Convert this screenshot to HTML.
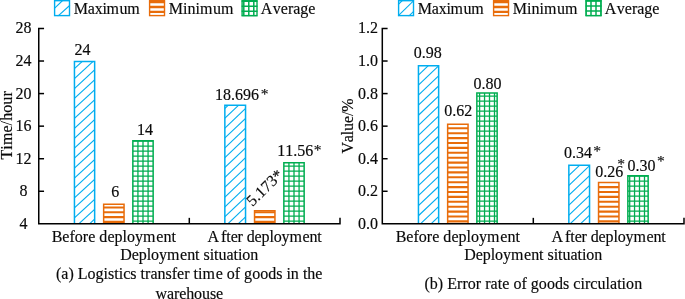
<!DOCTYPE html>
<html><head><meta charset="utf-8"><title>chart</title>
<style>html,body{margin:0;padding:0;background:#fff}svg{display:block;will-change:transform}text{font-family:"Liberation Serif",serif;fill:#0a0a0a;stroke:#0a0a0a;stroke-width:0.16px;font-kerning:none}</style>
</head><body>
<svg width="685" height="299" viewBox="0 0 685 299">
<rect width="685" height="299" fill="#fff"/>
<text x="23.60" y="33.45" font-size="16.0" text-anchor="middle">28</text>
<text x="23.60" y="66.02" font-size="16.0" text-anchor="middle">24</text>
<text x="23.60" y="98.58" font-size="16.0" text-anchor="middle">20</text>
<text x="23.60" y="131.15" font-size="16.0" text-anchor="middle">16</text>
<text x="23.60" y="163.72" font-size="16.0" text-anchor="middle">12</text>
<text x="23.60" y="196.28" font-size="16.0" text-anchor="middle">8</text>
<text x="23.60" y="228.85" font-size="16.0" text-anchor="middle">4</text>
<text transform="translate(12.40,159.49) rotate(-90)" font-size="16.0" textLength="68.23" lengthAdjust="spacing">Time/hour</text>
<clipPath id="c1"><rect x="53.90" y="0.0" width="16.3" height="16.3"/></clipPath>
<g clip-path="url(#c1)" stroke="#00adef" fill="none">
<line x1="53.90" y1="8.90" x2="63.10" y2="0.00" stroke-width="1.1"/>
<line x1="57.60" y1="16.30" x2="70.20" y2="5.00" stroke-width="1.1"/>
</g>
<rect x="54.60" y="0.70" width="14.90" height="14.90" fill="none" stroke="#00adef" stroke-width="1.4"/>
<text x="73.84" y="13.50" font-size="16.0" textLength="65.81" lengthAdjust="spacing">Maxim<tspan dx="0.7">um</tspan></text>
<clipPath id="c2"><rect x="148.90" y="0.0" width="16.3" height="16.3"/></clipPath>
<g clip-path="url(#c2)" stroke="#e86c0a" fill="none">
<line x1="148.90" y1="2.10" x2="165.20" y2="2.10" stroke-width="2.3"/>
<line x1="148.90" y1="7.00" x2="165.20" y2="7.00" stroke-width="2.3"/>
<line x1="148.90" y1="11.90" x2="165.20" y2="11.90" stroke-width="2.3"/>
</g>
<rect x="149.60" y="0.70" width="14.90" height="14.90" fill="none" stroke="#e86c0a" stroke-width="1.4"/>
<text x="168.79" y="13.50" font-size="16.0">Minim<tspan dx="0.7">um</tspan></text>
<clipPath id="c3"><rect x="241.40" y="0.0" width="16.3" height="16.3"/></clipPath>
<g clip-path="url(#c3)" stroke="#00ad50" fill="none">
<line x1="241.40" y1="1.20" x2="257.70" y2="1.20" stroke-width="1.5"/>
<line x1="243.80" y1="0.0" x2="243.80" y2="16.3" stroke-width="1.5"/>
<line x1="241.40" y1="6.20" x2="257.70" y2="6.20" stroke-width="1.5"/>
<line x1="248.80" y1="0.0" x2="248.80" y2="16.3" stroke-width="1.5"/>
<line x1="241.40" y1="11.20" x2="257.70" y2="11.20" stroke-width="1.5"/>
<line x1="253.80" y1="0.0" x2="253.80" y2="16.3" stroke-width="1.5"/>
<line x1="241.40" y1="16.20" x2="257.70" y2="16.20" stroke-width="1.5"/>
<line x1="258.80" y1="0.0" x2="258.80" y2="16.3" stroke-width="1.5"/>
</g>
<rect x="242.10" y="0.70" width="14.90" height="14.90" fill="none" stroke="#00ad50" stroke-width="1.4"/>
<text x="260.74" y="13.50" font-size="16.0">A</text>
<text x="272.81" y="13.50" font-size="16.0">verage</text>
<clipPath id="c4"><rect x="74.45" y="61.55" width="20.20" height="162.30"/></clipPath>
<g clip-path="url(#c4)" stroke="#00adef" fill="none">
<line x1="72.45" y1="30.64" x2="96.65" y2="8.38" stroke-width="1.1"/>
<line x1="72.45" y1="40.59" x2="96.65" y2="18.33" stroke-width="1.1"/>
<line x1="72.45" y1="50.54" x2="96.65" y2="28.28" stroke-width="1.1"/>
<line x1="72.45" y1="60.49" x2="96.65" y2="38.23" stroke-width="1.1"/>
<line x1="72.45" y1="70.44" x2="96.65" y2="48.18" stroke-width="1.1"/>
<line x1="72.45" y1="80.39" x2="96.65" y2="58.13" stroke-width="1.1"/>
<line x1="72.45" y1="90.34" x2="96.65" y2="68.08" stroke-width="1.1"/>
<line x1="72.45" y1="100.29" x2="96.65" y2="78.03" stroke-width="1.1"/>
<line x1="72.45" y1="110.24" x2="96.65" y2="87.98" stroke-width="1.1"/>
<line x1="72.45" y1="120.19" x2="96.65" y2="97.93" stroke-width="1.1"/>
<line x1="72.45" y1="130.14" x2="96.65" y2="107.88" stroke-width="1.1"/>
<line x1="72.45" y1="140.09" x2="96.65" y2="117.83" stroke-width="1.1"/>
<line x1="72.45" y1="150.04" x2="96.65" y2="127.78" stroke-width="1.1"/>
<line x1="72.45" y1="159.99" x2="96.65" y2="137.73" stroke-width="1.1"/>
<line x1="72.45" y1="169.94" x2="96.65" y2="147.68" stroke-width="1.1"/>
<line x1="72.45" y1="179.89" x2="96.65" y2="157.63" stroke-width="1.1"/>
<line x1="72.45" y1="189.84" x2="96.65" y2="167.58" stroke-width="1.1"/>
<line x1="72.45" y1="199.79" x2="96.65" y2="177.53" stroke-width="1.1"/>
<line x1="72.45" y1="209.74" x2="96.65" y2="187.48" stroke-width="1.1"/>
<line x1="72.45" y1="219.69" x2="96.65" y2="197.43" stroke-width="1.1"/>
<line x1="72.45" y1="229.64" x2="96.65" y2="207.38" stroke-width="1.1"/>
<line x1="72.45" y1="239.59" x2="96.65" y2="217.33" stroke-width="1.1"/>
<line x1="72.45" y1="249.54" x2="96.65" y2="227.28" stroke-width="1.1"/>
</g>
<path d="M74.45 223.85 V61.55 H94.65 V223.85" fill="none" stroke="#00adef" stroke-width="1.5"/>
<clipPath id="c5"><rect x="103.65" y="204.15" width="20.40" height="19.70"/></clipPath>
<g clip-path="url(#c5)" stroke="#e86c0a" fill="none">
<line x1="103.65" y1="207.50" x2="124.05" y2="207.50" stroke-width="2.1"/>
<line x1="103.65" y1="212.30" x2="124.05" y2="212.30" stroke-width="2.1"/>
<line x1="103.65" y1="217.10" x2="124.05" y2="217.10" stroke-width="2.1"/>
<line x1="103.65" y1="221.90" x2="124.05" y2="221.90" stroke-width="2.1"/>
<line x1="103.65" y1="226.70" x2="124.05" y2="226.70" stroke-width="2.1"/>
</g>
<path d="M103.65 223.85 V204.15 H124.05 V223.85" fill="none" stroke="#e86c0a" stroke-width="1.5"/>
<clipPath id="c6"><rect x="132.85" y="140.85" width="20.30" height="83.00"/></clipPath>
<g clip-path="url(#c6)" stroke="#00ad50" fill="none">
<line x1="132.85" y1="141.20" x2="153.15" y2="141.20" stroke-width="1.3"/>
<line x1="132.85" y1="146.20" x2="153.15" y2="146.20" stroke-width="1.3"/>
<line x1="132.85" y1="151.20" x2="153.15" y2="151.20" stroke-width="1.3"/>
<line x1="132.85" y1="156.20" x2="153.15" y2="156.20" stroke-width="1.3"/>
<line x1="132.85" y1="161.20" x2="153.15" y2="161.20" stroke-width="1.3"/>
<line x1="132.85" y1="166.20" x2="153.15" y2="166.20" stroke-width="1.3"/>
<line x1="132.85" y1="171.20" x2="153.15" y2="171.20" stroke-width="1.3"/>
<line x1="132.85" y1="176.20" x2="153.15" y2="176.20" stroke-width="1.3"/>
<line x1="132.85" y1="181.20" x2="153.15" y2="181.20" stroke-width="1.3"/>
<line x1="132.85" y1="186.20" x2="153.15" y2="186.20" stroke-width="1.3"/>
<line x1="132.85" y1="191.20" x2="153.15" y2="191.20" stroke-width="1.3"/>
<line x1="132.85" y1="196.20" x2="153.15" y2="196.20" stroke-width="1.3"/>
<line x1="132.85" y1="201.20" x2="153.15" y2="201.20" stroke-width="1.3"/>
<line x1="132.85" y1="206.20" x2="153.15" y2="206.20" stroke-width="1.3"/>
<line x1="132.85" y1="211.20" x2="153.15" y2="211.20" stroke-width="1.3"/>
<line x1="132.85" y1="216.20" x2="153.15" y2="216.20" stroke-width="1.3"/>
<line x1="132.85" y1="221.20" x2="153.15" y2="221.20" stroke-width="1.3"/>
<line x1="132.85" y1="226.20" x2="153.15" y2="226.20" stroke-width="1.3"/>
<line x1="137.93" y1="140.85" x2="137.93" y2="223.85" stroke-width="1.3"/>
<line x1="143.00" y1="140.85" x2="143.00" y2="223.85" stroke-width="1.3"/>
<line x1="148.07" y1="140.85" x2="148.07" y2="223.85" stroke-width="1.3"/>
</g>
<path d="M132.85 223.85 V140.85 H153.15 V223.85" fill="none" stroke="#00ad50" stroke-width="1.5"/>
<clipPath id="c7"><rect x="224.85" y="105.25" width="20.70" height="118.60"/></clipPath>
<g clip-path="url(#c7)" stroke="#00adef" fill="none">
<line x1="222.85" y1="80.80" x2="247.55" y2="57.34" stroke-width="1.1"/>
<line x1="222.85" y1="90.65" x2="247.55" y2="67.19" stroke-width="1.1"/>
<line x1="222.85" y1="100.50" x2="247.55" y2="77.04" stroke-width="1.1"/>
<line x1="222.85" y1="110.35" x2="247.55" y2="86.89" stroke-width="1.1"/>
<line x1="222.85" y1="120.20" x2="247.55" y2="96.74" stroke-width="1.1"/>
<line x1="222.85" y1="130.05" x2="247.55" y2="106.59" stroke-width="1.1"/>
<line x1="222.85" y1="139.90" x2="247.55" y2="116.44" stroke-width="1.1"/>
<line x1="222.85" y1="149.75" x2="247.55" y2="126.29" stroke-width="1.1"/>
<line x1="222.85" y1="159.60" x2="247.55" y2="136.13" stroke-width="1.1"/>
<line x1="222.85" y1="169.45" x2="247.55" y2="145.98" stroke-width="1.1"/>
<line x1="222.85" y1="179.30" x2="247.55" y2="155.83" stroke-width="1.1"/>
<line x1="222.85" y1="189.15" x2="247.55" y2="165.68" stroke-width="1.1"/>
<line x1="222.85" y1="199.00" x2="247.55" y2="175.53" stroke-width="1.1"/>
<line x1="222.85" y1="208.85" x2="247.55" y2="185.38" stroke-width="1.1"/>
<line x1="222.85" y1="218.70" x2="247.55" y2="195.23" stroke-width="1.1"/>
<line x1="222.85" y1="228.55" x2="247.55" y2="205.08" stroke-width="1.1"/>
<line x1="222.85" y1="238.40" x2="247.55" y2="214.93" stroke-width="1.1"/>
<line x1="222.85" y1="248.25" x2="247.55" y2="224.78" stroke-width="1.1"/>
</g>
<path d="M224.85 223.85 V105.25 H245.55 V223.85" fill="none" stroke="#00adef" stroke-width="1.5"/>
<clipPath id="c8"><rect x="254.55" y="210.75" width="20.40" height="13.10"/></clipPath>
<g clip-path="url(#c8)" stroke="#e86c0a" fill="none">
<line x1="254.55" y1="212.30" x2="274.95" y2="212.30" stroke-width="2.1"/>
<line x1="254.55" y1="217.10" x2="274.95" y2="217.10" stroke-width="2.1"/>
<line x1="254.55" y1="221.90" x2="274.95" y2="221.90" stroke-width="2.1"/>
<line x1="254.55" y1="226.70" x2="274.95" y2="226.70" stroke-width="2.1"/>
</g>
<path d="M254.55 223.85 V210.75 H274.95 V223.85" fill="none" stroke="#e86c0a" stroke-width="1.5"/>
<clipPath id="c9"><rect x="283.85" y="162.85" width="20.30" height="61.00"/></clipPath>
<g clip-path="url(#c9)" stroke="#00ad50" fill="none">
<line x1="283.85" y1="166.20" x2="304.15" y2="166.20" stroke-width="1.3"/>
<line x1="283.85" y1="171.20" x2="304.15" y2="171.20" stroke-width="1.3"/>
<line x1="283.85" y1="176.20" x2="304.15" y2="176.20" stroke-width="1.3"/>
<line x1="283.85" y1="181.20" x2="304.15" y2="181.20" stroke-width="1.3"/>
<line x1="283.85" y1="186.20" x2="304.15" y2="186.20" stroke-width="1.3"/>
<line x1="283.85" y1="191.20" x2="304.15" y2="191.20" stroke-width="1.3"/>
<line x1="283.85" y1="196.20" x2="304.15" y2="196.20" stroke-width="1.3"/>
<line x1="283.85" y1="201.20" x2="304.15" y2="201.20" stroke-width="1.3"/>
<line x1="283.85" y1="206.20" x2="304.15" y2="206.20" stroke-width="1.3"/>
<line x1="283.85" y1="211.20" x2="304.15" y2="211.20" stroke-width="1.3"/>
<line x1="283.85" y1="216.20" x2="304.15" y2="216.20" stroke-width="1.3"/>
<line x1="283.85" y1="221.20" x2="304.15" y2="221.20" stroke-width="1.3"/>
<line x1="283.85" y1="226.20" x2="304.15" y2="226.20" stroke-width="1.3"/>
<line x1="288.93" y1="162.85" x2="288.93" y2="223.85" stroke-width="1.3"/>
<line x1="294.00" y1="162.85" x2="294.00" y2="223.85" stroke-width="1.3"/>
<line x1="299.08" y1="162.85" x2="299.08" y2="223.85" stroke-width="1.3"/>
</g>
<path d="M283.85 223.85 V162.85 H304.15 V223.85" fill="none" stroke="#00ad50" stroke-width="1.5"/>
<text x="51.64" y="241.60" font-size="16.0" textLength="124.25" lengthAdjust="spacing">Before deploym<tspan dx="0.7">ent</tspan></text>
<text x="207.44" y="241.60" font-size="16.0">A</text>
<text x="221.11" y="241.60" font-size="16.0" textLength="100.69" lengthAdjust="spacing">fter deploym<tspan dx="0.7">ent</tspan></text>
<text x="120.14" y="260.40" font-size="16.0" textLength="138.10" lengthAdjust="spacing">Deploym<tspan dx="0.7">ent situation</tspan></text>
<text x="56.00" y="279.30" font-size="16.0" textLength="266.46" lengthAdjust="spacing">(a) Logistics transfer tim<tspan dx="0.7">e of goods in the</tspan></text>
<text x="155.48" y="298.50" font-size="16.0" textLength="67.67" lengthAdjust="spacing">warehouse</text>
<g stroke="#000" stroke-width="1.5" fill="none">
<path d="M44.05 28.45 H38.75 V223.85 H340 V217.85"/>
<line x1="38.75" y1="61.02" x2="44.05" y2="61.02"/>
<line x1="38.75" y1="93.58" x2="44.05" y2="93.58"/>
<line x1="38.75" y1="126.15" x2="44.05" y2="126.15"/>
<line x1="38.75" y1="158.72" x2="44.05" y2="158.72"/>
<line x1="38.75" y1="191.28" x2="44.05" y2="191.28"/>
<line x1="189.3" y1="223.85" x2="189.3" y2="217.85"/>
</g>
<text x="74.55" y="54.70" font-size="16.0">24</text>
<text x="111.21" y="197.10" font-size="16.0">6</text>
<text x="144.9" y="134.6" font-size="16.0" text-anchor="middle">14</text>
<text x="214.94" y="99.70" font-size="16.0">18.696</text>
<text x="260.84" y="98.81" font-size="15.6">*</text>
<text x="277.18" y="155.70" font-size="16.0">11.56</text>
<text x="313.64" y="154.71" font-size="15.6">*</text>
<text transform="translate(252.5,206.9) rotate(-44)" font-size="16.0" textLength="44.2" lengthAdjust="spacing">5.173*</text>
<text x="368.00" y="33.45" font-size="16.0" text-anchor="middle">1.2</text>
<text x="368.00" y="66.02" font-size="16.0" text-anchor="middle">1.0</text>
<text x="368.00" y="98.58" font-size="16.0" text-anchor="middle">0.8</text>
<text x="368.00" y="131.15" font-size="16.0" text-anchor="middle">0.6</text>
<text x="368.00" y="163.72" font-size="16.0" text-anchor="middle">0.4</text>
<text x="368.00" y="196.28" font-size="16.0" text-anchor="middle">0.2</text>
<text x="368.00" y="228.85" font-size="16.0" text-anchor="middle">0.0</text>
<text transform="translate(352.50,153.58) rotate(-90)" font-size="16.0" textLength="55.13" lengthAdjust="spacing">Value/%</text>
<clipPath id="c10"><rect x="397.90" y="0.0" width="16.3" height="16.3"/></clipPath>
<g clip-path="url(#c10)" stroke="#00adef" fill="none">
<line x1="397.90" y1="4.80" x2="402.80" y2="0.00" stroke-width="1.1"/>
<line x1="397.90" y1="16.10" x2="414.20" y2="0.20" stroke-width="1.1"/>
<line x1="408.50" y1="16.30" x2="414.20" y2="10.80" stroke-width="1.1"/>
</g>
<rect x="398.60" y="0.70" width="14.90" height="14.90" fill="none" stroke="#00adef" stroke-width="1.4"/>
<text x="417.84" y="13.50" font-size="16.0" textLength="65.81" lengthAdjust="spacing">Maxim<tspan dx="0.7">um</tspan></text>
<clipPath id="c11"><rect x="492.90" y="0.0" width="16.3" height="16.3"/></clipPath>
<g clip-path="url(#c11)" stroke="#e86c0a" fill="none">
<line x1="492.90" y1="2.10" x2="509.20" y2="2.10" stroke-width="2.3"/>
<line x1="492.90" y1="7.00" x2="509.20" y2="7.00" stroke-width="2.3"/>
<line x1="492.90" y1="11.90" x2="509.20" y2="11.90" stroke-width="2.3"/>
</g>
<rect x="493.60" y="0.70" width="14.90" height="14.90" fill="none" stroke="#e86c0a" stroke-width="1.4"/>
<text x="512.79" y="13.50" font-size="16.0">Minim<tspan dx="0.7">um</tspan></text>
<clipPath id="c12"><rect x="585.40" y="0.0" width="16.3" height="16.3"/></clipPath>
<g clip-path="url(#c12)" stroke="#00ad50" fill="none">
<line x1="585.40" y1="1.00" x2="601.70" y2="1.00" stroke-width="1.5"/>
<line x1="586.00" y1="0.0" x2="586.00" y2="16.3" stroke-width="1.5"/>
<line x1="585.40" y1="6.00" x2="601.70" y2="6.00" stroke-width="1.5"/>
<line x1="591.00" y1="0.0" x2="591.00" y2="16.3" stroke-width="1.5"/>
<line x1="585.40" y1="11.00" x2="601.70" y2="11.00" stroke-width="1.5"/>
<line x1="596.00" y1="0.0" x2="596.00" y2="16.3" stroke-width="1.5"/>
<line x1="585.40" y1="16.00" x2="601.70" y2="16.00" stroke-width="1.5"/>
<line x1="601.00" y1="0.0" x2="601.00" y2="16.3" stroke-width="1.5"/>
</g>
<rect x="586.10" y="0.70" width="14.90" height="14.90" fill="none" stroke="#00ad50" stroke-width="1.4"/>
<text x="604.74" y="13.50" font-size="16.0">A</text>
<text x="616.81" y="13.50" font-size="16.0">verage</text>
<clipPath id="c13"><rect x="418.45" y="65.65" width="20.20" height="158.20"/></clipPath>
<g clip-path="url(#c13)" stroke="#00adef" fill="none">
<line x1="416.45" y1="36.70" x2="440.65" y2="13.71" stroke-width="1.1"/>
<line x1="416.45" y1="46.75" x2="440.65" y2="23.76" stroke-width="1.1"/>
<line x1="416.45" y1="56.80" x2="440.65" y2="33.81" stroke-width="1.1"/>
<line x1="416.45" y1="66.85" x2="440.65" y2="43.86" stroke-width="1.1"/>
<line x1="416.45" y1="76.90" x2="440.65" y2="53.91" stroke-width="1.1"/>
<line x1="416.45" y1="86.95" x2="440.65" y2="63.96" stroke-width="1.1"/>
<line x1="416.45" y1="97.00" x2="440.65" y2="74.01" stroke-width="1.1"/>
<line x1="416.45" y1="107.05" x2="440.65" y2="84.06" stroke-width="1.1"/>
<line x1="416.45" y1="117.10" x2="440.65" y2="94.11" stroke-width="1.1"/>
<line x1="416.45" y1="127.15" x2="440.65" y2="104.16" stroke-width="1.1"/>
<line x1="416.45" y1="137.20" x2="440.65" y2="114.21" stroke-width="1.1"/>
<line x1="416.45" y1="147.25" x2="440.65" y2="124.26" stroke-width="1.1"/>
<line x1="416.45" y1="157.30" x2="440.65" y2="134.31" stroke-width="1.1"/>
<line x1="416.45" y1="167.35" x2="440.65" y2="144.36" stroke-width="1.1"/>
<line x1="416.45" y1="177.40" x2="440.65" y2="154.41" stroke-width="1.1"/>
<line x1="416.45" y1="187.45" x2="440.65" y2="164.46" stroke-width="1.1"/>
<line x1="416.45" y1="197.50" x2="440.65" y2="174.51" stroke-width="1.1"/>
<line x1="416.45" y1="207.55" x2="440.65" y2="184.56" stroke-width="1.1"/>
<line x1="416.45" y1="217.60" x2="440.65" y2="194.61" stroke-width="1.1"/>
<line x1="416.45" y1="227.65" x2="440.65" y2="204.66" stroke-width="1.1"/>
<line x1="416.45" y1="237.70" x2="440.65" y2="214.71" stroke-width="1.1"/>
<line x1="416.45" y1="247.75" x2="440.65" y2="224.76" stroke-width="1.1"/>
</g>
<path d="M418.45 223.85 V65.65 H438.65 V223.85" fill="none" stroke="#00adef" stroke-width="1.5"/>
<clipPath id="c14"><rect x="447.65" y="124.35" width="20.40" height="99.50"/></clipPath>
<g clip-path="url(#c14)" stroke="#e86c0a" fill="none">
<line x1="447.65" y1="128.30" x2="468.05" y2="128.30" stroke-width="2.1"/>
<line x1="447.65" y1="133.20" x2="468.05" y2="133.20" stroke-width="2.1"/>
<line x1="447.65" y1="138.10" x2="468.05" y2="138.10" stroke-width="2.1"/>
<line x1="447.65" y1="143.00" x2="468.05" y2="143.00" stroke-width="2.1"/>
<line x1="447.65" y1="147.90" x2="468.05" y2="147.90" stroke-width="2.1"/>
<line x1="447.65" y1="152.80" x2="468.05" y2="152.80" stroke-width="2.1"/>
<line x1="447.65" y1="157.70" x2="468.05" y2="157.70" stroke-width="2.1"/>
<line x1="447.65" y1="162.60" x2="468.05" y2="162.60" stroke-width="2.1"/>
<line x1="447.65" y1="167.50" x2="468.05" y2="167.50" stroke-width="2.1"/>
<line x1="447.65" y1="172.40" x2="468.05" y2="172.40" stroke-width="2.1"/>
<line x1="447.65" y1="177.30" x2="468.05" y2="177.30" stroke-width="2.1"/>
<line x1="447.65" y1="182.20" x2="468.05" y2="182.20" stroke-width="2.1"/>
<line x1="447.65" y1="187.10" x2="468.05" y2="187.10" stroke-width="2.1"/>
<line x1="447.65" y1="192.00" x2="468.05" y2="192.00" stroke-width="2.1"/>
<line x1="447.65" y1="196.90" x2="468.05" y2="196.90" stroke-width="2.1"/>
<line x1="447.65" y1="201.80" x2="468.05" y2="201.80" stroke-width="2.1"/>
<line x1="447.65" y1="206.70" x2="468.05" y2="206.70" stroke-width="2.1"/>
<line x1="447.65" y1="211.60" x2="468.05" y2="211.60" stroke-width="2.1"/>
<line x1="447.65" y1="216.50" x2="468.05" y2="216.50" stroke-width="2.1"/>
<line x1="447.65" y1="221.40" x2="468.05" y2="221.40" stroke-width="2.1"/>
<line x1="447.65" y1="226.30" x2="468.05" y2="226.30" stroke-width="2.1"/>
</g>
<path d="M447.65 223.85 V124.35 H468.05 V223.85" fill="none" stroke="#e86c0a" stroke-width="1.5"/>
<clipPath id="c15"><rect x="476.85" y="93.05" width="20.30" height="130.80"/></clipPath>
<g clip-path="url(#c15)" stroke="#00ad50" fill="none">
<line x1="476.85" y1="96.20" x2="497.15" y2="96.20" stroke-width="1.3"/>
<line x1="476.85" y1="101.20" x2="497.15" y2="101.20" stroke-width="1.3"/>
<line x1="476.85" y1="106.20" x2="497.15" y2="106.20" stroke-width="1.3"/>
<line x1="476.85" y1="111.20" x2="497.15" y2="111.20" stroke-width="1.3"/>
<line x1="476.85" y1="116.20" x2="497.15" y2="116.20" stroke-width="1.3"/>
<line x1="476.85" y1="121.20" x2="497.15" y2="121.20" stroke-width="1.3"/>
<line x1="476.85" y1="126.20" x2="497.15" y2="126.20" stroke-width="1.3"/>
<line x1="476.85" y1="131.20" x2="497.15" y2="131.20" stroke-width="1.3"/>
<line x1="476.85" y1="136.20" x2="497.15" y2="136.20" stroke-width="1.3"/>
<line x1="476.85" y1="141.20" x2="497.15" y2="141.20" stroke-width="1.3"/>
<line x1="476.85" y1="146.20" x2="497.15" y2="146.20" stroke-width="1.3"/>
<line x1="476.85" y1="151.20" x2="497.15" y2="151.20" stroke-width="1.3"/>
<line x1="476.85" y1="156.20" x2="497.15" y2="156.20" stroke-width="1.3"/>
<line x1="476.85" y1="161.20" x2="497.15" y2="161.20" stroke-width="1.3"/>
<line x1="476.85" y1="166.20" x2="497.15" y2="166.20" stroke-width="1.3"/>
<line x1="476.85" y1="171.20" x2="497.15" y2="171.20" stroke-width="1.3"/>
<line x1="476.85" y1="176.20" x2="497.15" y2="176.20" stroke-width="1.3"/>
<line x1="476.85" y1="181.20" x2="497.15" y2="181.20" stroke-width="1.3"/>
<line x1="476.85" y1="186.20" x2="497.15" y2="186.20" stroke-width="1.3"/>
<line x1="476.85" y1="191.20" x2="497.15" y2="191.20" stroke-width="1.3"/>
<line x1="476.85" y1="196.20" x2="497.15" y2="196.20" stroke-width="1.3"/>
<line x1="476.85" y1="201.20" x2="497.15" y2="201.20" stroke-width="1.3"/>
<line x1="476.85" y1="206.20" x2="497.15" y2="206.20" stroke-width="1.3"/>
<line x1="476.85" y1="211.20" x2="497.15" y2="211.20" stroke-width="1.3"/>
<line x1="476.85" y1="216.20" x2="497.15" y2="216.20" stroke-width="1.3"/>
<line x1="476.85" y1="221.20" x2="497.15" y2="221.20" stroke-width="1.3"/>
<line x1="476.85" y1="226.20" x2="497.15" y2="226.20" stroke-width="1.3"/>
<line x1="479.60" y1="93.05" x2="479.60" y2="223.85" stroke-width="1.3"/>
<line x1="484.55" y1="93.05" x2="484.55" y2="223.85" stroke-width="1.3"/>
<line x1="489.50" y1="93.05" x2="489.50" y2="223.85" stroke-width="1.3"/>
<line x1="494.50" y1="93.05" x2="494.50" y2="223.85" stroke-width="1.3"/>
</g>
<path d="M476.85 223.85 V93.05 H497.15 V223.85" fill="none" stroke="#00ad50" stroke-width="1.5"/>
<clipPath id="c16"><rect x="568.85" y="165.35" width="20.70" height="58.50"/></clipPath>
<g clip-path="url(#c16)" stroke="#00adef" fill="none">
<line x1="566.85" y1="137.80" x2="591.55" y2="114.33" stroke-width="1.1"/>
<line x1="566.85" y1="147.70" x2="591.55" y2="124.23" stroke-width="1.1"/>
<line x1="566.85" y1="157.60" x2="591.55" y2="134.13" stroke-width="1.1"/>
<line x1="566.85" y1="167.50" x2="591.55" y2="144.03" stroke-width="1.1"/>
<line x1="566.85" y1="177.40" x2="591.55" y2="153.93" stroke-width="1.1"/>
<line x1="566.85" y1="187.30" x2="591.55" y2="163.83" stroke-width="1.1"/>
<line x1="566.85" y1="197.20" x2="591.55" y2="173.73" stroke-width="1.1"/>
<line x1="566.85" y1="207.10" x2="591.55" y2="183.63" stroke-width="1.1"/>
<line x1="566.85" y1="217.00" x2="591.55" y2="193.53" stroke-width="1.1"/>
<line x1="566.85" y1="226.90" x2="591.55" y2="203.43" stroke-width="1.1"/>
<line x1="566.85" y1="236.80" x2="591.55" y2="213.33" stroke-width="1.1"/>
<line x1="566.85" y1="246.70" x2="591.55" y2="223.23" stroke-width="1.1"/>
</g>
<path d="M568.85 223.85 V165.35 H589.55 V223.85" fill="none" stroke="#00adef" stroke-width="1.5"/>
<clipPath id="c17"><rect x="598.55" y="182.55" width="20.40" height="41.30"/></clipPath>
<g clip-path="url(#c17)" stroke="#e86c0a" fill="none">
<line x1="598.55" y1="187.10" x2="618.95" y2="187.10" stroke-width="2.1"/>
<line x1="598.55" y1="192.00" x2="618.95" y2="192.00" stroke-width="2.1"/>
<line x1="598.55" y1="196.90" x2="618.95" y2="196.90" stroke-width="2.1"/>
<line x1="598.55" y1="201.80" x2="618.95" y2="201.80" stroke-width="2.1"/>
<line x1="598.55" y1="206.70" x2="618.95" y2="206.70" stroke-width="2.1"/>
<line x1="598.55" y1="211.60" x2="618.95" y2="211.60" stroke-width="2.1"/>
<line x1="598.55" y1="216.50" x2="618.95" y2="216.50" stroke-width="2.1"/>
<line x1="598.55" y1="221.40" x2="618.95" y2="221.40" stroke-width="2.1"/>
<line x1="598.55" y1="226.30" x2="618.95" y2="226.30" stroke-width="2.1"/>
</g>
<path d="M598.55 223.85 V182.55 H618.95 V223.85" fill="none" stroke="#e86c0a" stroke-width="1.5"/>
<clipPath id="c18"><rect x="627.85" y="175.75" width="20.30" height="48.10"/></clipPath>
<g clip-path="url(#c18)" stroke="#00ad50" fill="none">
<line x1="627.85" y1="176.20" x2="648.15" y2="176.20" stroke-width="1.3"/>
<line x1="627.85" y1="181.20" x2="648.15" y2="181.20" stroke-width="1.3"/>
<line x1="627.85" y1="186.20" x2="648.15" y2="186.20" stroke-width="1.3"/>
<line x1="627.85" y1="191.20" x2="648.15" y2="191.20" stroke-width="1.3"/>
<line x1="627.85" y1="196.20" x2="648.15" y2="196.20" stroke-width="1.3"/>
<line x1="627.85" y1="201.20" x2="648.15" y2="201.20" stroke-width="1.3"/>
<line x1="627.85" y1="206.20" x2="648.15" y2="206.20" stroke-width="1.3"/>
<line x1="627.85" y1="211.20" x2="648.15" y2="211.20" stroke-width="1.3"/>
<line x1="627.85" y1="216.20" x2="648.15" y2="216.20" stroke-width="1.3"/>
<line x1="627.85" y1="221.20" x2="648.15" y2="221.20" stroke-width="1.3"/>
<line x1="627.85" y1="226.20" x2="648.15" y2="226.20" stroke-width="1.3"/>
<line x1="629.70" y1="175.75" x2="629.70" y2="223.85" stroke-width="1.3"/>
<line x1="634.55" y1="175.75" x2="634.55" y2="223.85" stroke-width="1.3"/>
<line x1="639.50" y1="175.75" x2="639.50" y2="223.85" stroke-width="1.3"/>
<line x1="644.50" y1="175.75" x2="644.50" y2="223.85" stroke-width="1.3"/>
</g>
<path d="M627.85 223.85 V175.75 H648.15 V223.85" fill="none" stroke="#00ad50" stroke-width="1.5"/>
<text x="395.64" y="241.60" font-size="16.0" textLength="124.25" lengthAdjust="spacing">Before deploym<tspan dx="0.7">ent</tspan></text>
<text x="551.44" y="241.60" font-size="16.0">A</text>
<text x="565.11" y="241.60" font-size="16.0" textLength="100.69" lengthAdjust="spacing">fter deploym<tspan dx="0.7">ent</tspan></text>
<text x="464.14" y="260.40" font-size="16.0" textLength="138.10" lengthAdjust="spacing">Deploym<tspan dx="0.7">ent situation</tspan></text>
<text x="424.40" y="288.90" font-size="16.0" textLength="217.75" lengthAdjust="spacing">(b) Error rate of goods circulation</text>
<g stroke="#000" stroke-width="1.5" fill="none">
<path d="M387.6 28.45 H382.3 V223.85 H684 V217.85"/>
<line x1="382.3" y1="61.02" x2="387.6" y2="61.02"/>
<line x1="382.3" y1="93.58" x2="387.6" y2="93.58"/>
<line x1="382.3" y1="126.15" x2="387.6" y2="126.15"/>
<line x1="382.3" y1="158.72" x2="387.6" y2="158.72"/>
<line x1="382.3" y1="191.28" x2="387.6" y2="191.28"/>
<line x1="533.3" y1="223.85" x2="533.3" y2="217.85"/>
</g>
<text x="413.75" y="57.80" font-size="16.0">0.98</text>
<text x="444.24" y="116.40" font-size="16.0">0.62</text>
<text x="473.60" y="88.80" font-size="16.0">0.80</text>
<text x="564.07" y="157.60" font-size="16.0">0.34</text>
<text x="593.14" y="155.51" font-size="15.6">*</text>
<text x="595.28" y="177.20" font-size="16.0">0.26</text>
<text x="617.24" y="169.21" font-size="15.6">*</text>
<text x="627.60" y="170.80" font-size="16.0">0.30</text>
<text x="657.04" y="165.91" font-size="15.6">*</text>
</svg></body></html>
